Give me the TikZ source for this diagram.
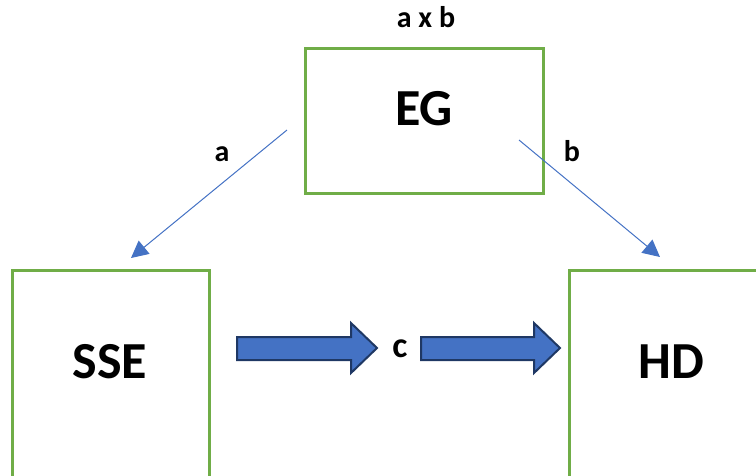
\documentclass[tikz,border=0pt]{standalone}
\usepackage{fontspec}
\setmainfont{Carlito}
\usetikzlibrary{arrows.meta}
\definecolor{boxgreen}{HTML}{70AD47}
\definecolor{lineblue}{HTML}{4472C4}
\definecolor{edgeblue}{HTML}{1F3864}
\tikzset{
  varbox/.style={draw=boxgreen, line width=3pt, inner sep=0pt},
  boxtext/.style={font=\fontsize{52}{52}\selectfont\bfseries},
  pathlabel/.style={font=\fontsize{30}{30}\selectfont\bfseries, anchor=base},
  pathline/.style={draw=lineblue, line width=1pt, -{Triangle[length=17pt,width=17pt]}},
  blockarrow/.style={fill=lineblue, draw=edgeblue, line width=2pt, line join=miter}
}
\begin{document}
\begin{tikzpicture}[x=1pt,y=-1pt]
	\useasboundingbox (0,0) rectangle (756,475);
	\clip (0,0) rectangle (756,475);

	% boxes
	\draw[varbox] (305,48) rectangle (543,193);
	\draw[varbox] (12,270) rectangle (209,495);
	\draw[varbox] (569,270) rectangle (775,495);

	\node[boxtext] (eg) at (424,109) {EG};
	\node[boxtext] (sse) at (110,362) {SSE};
	\node[boxtext] (hd) at (671,362) {HD};

	% labels
	\node[pathlabel] (lab) at (426,27) {a x b};
	\node[pathlabel] (la) at (222,161) {a};
	\node[pathlabel] (lb) at (572,161) {b};
	\node[pathlabel, font=\fontsize{36}{36}\selectfont\bfseries] (lc) at (400,357) {c};

	% thin paths
	\coordinate (a0) at (287,130);
	\coordinate (a1) at (131,258);
	\coordinate (b0) at (519,140);
	\coordinate (b1) at (660,257);
	\draw[pathline] (a0) -- (a1);
	\draw[pathline] (b0) -- (b1);

	% block arrows
	\draw[blockarrow] (237,337) -- (351,337) -- (351,323) -- (377,348) -- (351,373) -- (351,360) -- (237,360) -- cycle;
	\draw[blockarrow] (421,337) -- (534,337) -- (534,323) -- (560,348) -- (534,373) -- (534,360) -- (421,360) -- cycle;
\end{tikzpicture}
\end{document}
